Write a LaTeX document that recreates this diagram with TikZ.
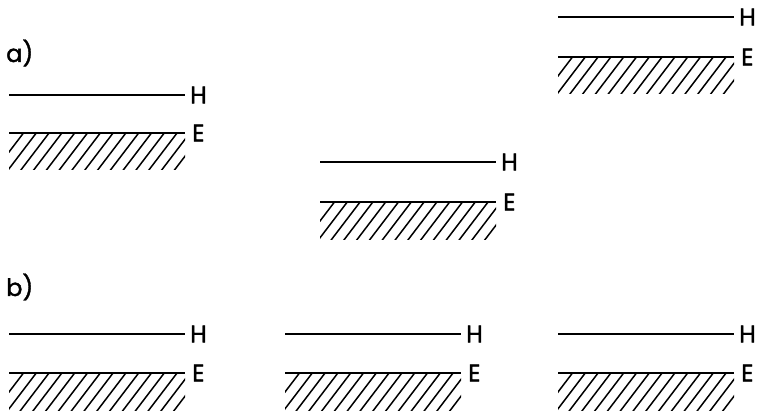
\documentclass[tikz,border=0pt]{standalone}
\usepackage{fontspec}
\setmainfont{Poppins}
\newfontfamily\labfont{Poppins}[FakeBold=1.6]
\usetikzlibrary{positioning,calc}
\tikzset{lvl/.style={line width=2pt},hatch/.style={line width=1.5pt},
lbl/.style={inner sep=0pt,font=\fontsize{24}{24}\labfont}}

\begin{document}
\begin{tikzpicture}[x=1pt,y=-1pt]
	\useasboundingbox (0,0) rectangle (757,414);
	\node[lbl,anchor=west] (a) at (6,53) {a)};
	\node[lbl,anchor=west] (b) at (6,287) {b)};

	% panels: name / left x / H level / E level
	\foreach \n/\x/\h/\e in {a1/9/95/133,a2/320/162/202,a3/558/17/57,b1/9/334/373,b2/285/334/373,b3/558/334/373}{
		\coordinate (\n H0) at (\x,\h);
		\coordinate (\n H1) at (\x+176,\h);
		\coordinate (\n E0) at (\x,\e);
		\coordinate (\n E1) at (\x+176,\e);
		\node[lbl,right=5pt of \n H1] (\n H) {H};
		\node[lbl,anchor=west] (\n E) at ($(\n E1)+(7,0)$) {E};
		\draw[lvl] (\n H0) -- (\n H1);
		\begin{scope}
			\clip (\n E0) rectangle ($(\n E1)+(0,37)$);
			\foreach \k in {0,...,16}
				\draw[hatch] ($(\n E0)+(\k*12.8-16,40)$) -- ++(32,-42);
		\end{scope}
		\draw[lvl] (\n E0) -- (\n E1);
	}
\end{tikzpicture}
\end{document}
